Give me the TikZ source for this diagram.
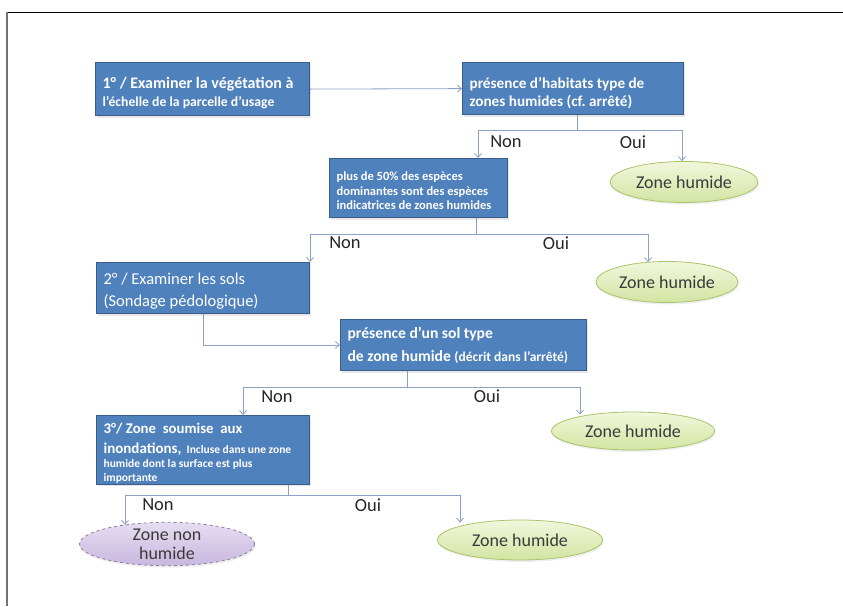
\documentclass[tikz,border=0pt]{standalone}
\usepackage{fontspec}
\setmainfont{Carlito}
\usetikzlibrary{arrows.meta,shapes.geometric,calc,shadows}
\definecolor{boxfill}{HTML}{4F81BD}
\definecolor{boxdraw}{HTML}{385D8A}
\definecolor{conn}{HTML}{8BA2C6}
\definecolor{grtop}{HTML}{F1F7DC}
\definecolor{grbot}{HTML}{D3E4A2}
\definecolor{grdraw}{HTML}{A9C46A}
\definecolor{pptop}{HTML}{E6DDF1}
\definecolor{ppbot}{HTML}{C8B7DF}
\definecolor{ppdraw}{HTML}{8C7E9C}
\definecolor{elltext}{HTML}{3A3A3A}
\frenchspacing
\newcommand{\natsp}{\spaceskip=0pt\xspaceskip=0pt\relax}
\newcommand{\lift}[1]{\rule{0pt}{#1}}
\begin{document}
\begin{tikzpicture}[x=1pt,y=-1pt,
  box/.style={draw=boxdraw, fill=boxfill, line width=1.2pt, anchor=north west,
    text=white, align=left, inner xsep=7pt, inner ysep=1pt,
    drop shadow={opacity=0.18, shadow xshift=1.5pt, shadow yshift=-2pt}},
  gell/.style={ellipse, draw=grdraw, line width=0.8pt, top color=grtop, bottom color=grbot,
    inner sep=0pt, text=elltext, font=\fontsize{18}{19}\selectfont, align=center,
    drop shadow={opacity=0.12, shadow xshift=1pt, shadow yshift=-2pt}},
  pell/.style={ellipse, draw=ppdraw, dashed, line width=0.8pt, top color=pptop, bottom color=ppbot,
    inner sep=0pt, text=elltext, font=\fontsize{18}{19}\selectfont, align=center,
    drop shadow={opacity=0.12, shadow xshift=1pt, shadow yshift=-2pt}},
  line/.style={draw=conn, line width=0.8pt},
  arr/.style={line, -{Straight Barb[length=4pt,width=7pt]}},
  lab/.style={font=\fontsize{18.5}{20}\selectfont, text=black!85, inner sep=0pt}
]
\useasboundingbox (0,0) rectangle (843,606);
\fill[white] (0,0) rectangle (843,606);
% frame
\draw[black, line width=1pt] (6,12.5) -- (843,12.5);
\draw[black!55, line width=2pt] (7,12) -- (7,606);

% boxes
\node[box, minimum width=214pt, minimum height=53pt, text width=200pt,
  font=\bfseries\fontsize{13.7}{18}\selectfont] (b1) at (95,62)
  {\natsp{\fontsize{16}{18}\selectfont\lift{19pt}1° / Examiner la végétation à}\\l’échelle de la parcelle d’usage};
\node[box, minimum width=221pt, minimum height=52pt, text width=207pt,
  font=\bfseries\fontsize{15.2}{18}\selectfont] (b2) at (462,62)
  {\natsp\lift{20pt}présence d’habitats type de\\zones humides (cf. arrêté)};
\node[box, minimum width=178pt, minimum height=59pt, text width=164pt,
  font=\bfseries\fontsize{12.5}{14.5}\selectfont] (b3) at (329,158)
  {\natsp\lift{14pt}plus de 50\% des espèces\\dominantes sont des espèces\\indicatrices de zones humides};
\node[box, minimum width=213pt, minimum height=51pt, text width=199pt,
  font=\fontsize{16.5}{22}\selectfont] (b4) at (96,262)
  {\natsp\lift{17pt}2° / Examiner les sols\\(Sondage pédologique)};
\node[box, minimum width=246pt, minimum height=51pt, text width=232pt,
  font=\bfseries\fontsize{15.6}{23}\selectfont] (b5) at (340,319)
  {\natsp présence d’un sol type\\de zone humide {\fontsize{13.5}{12}\selectfont (décrit dans l’arrêté)}};
\node[box, minimum width=213pt, minimum height=65pt, text width=199pt,
  font=\bfseries\fontsize{11.5}{14}\selectfont] (b6) at (96,415)
  {\natsp{\fontsize{14.8}{14}\selectfont\lift{17pt}3°/ Zone\ \ soumise\ \ aux}\\[6pt]{\fontsize{15}{14}\selectfont inondations,}\ \ Incluse dans une zone\\
   humide dont la surface est plus\\importante};

% ellipses
\node[gell, minimum width=148pt, minimum height=41pt] (e1) at (684,182) {Zone humide};
\node[gell, minimum width=142pt, minimum height=41pt] (e2) at (667,282) {Zone humide};
\node[gell, minimum width=163pt, minimum height=38pt] (e3) at (633,431) {Zone humide};
\node[gell, minimum width=165pt, minimum height=40pt] (e4) at (520,540) {Zone humide};
\node[pell, minimum width=175pt, minimum height=42pt] (e5) at (167,544) {Zone non\\humide};

% connectors
\draw[arr] (b1.east) -- (b2.west);

\coordinate (s2) at (577,130); \coordinate (s2l) at (478,130); \coordinate (s2r) at (682,130);
\draw[line] (s2 |- b2.south) -- (s2);
\draw[line] (s2l) -- (s2r);
\draw[arr] (s2l) -- (s2l |- b3.north);
\draw[arr] (s2r) -- (s2r |- e1.north);

\coordinate (s3) at (476,234); \coordinate (s3l) at (310,234); \coordinate (s3r) at (648,234);
\draw[line] (s3 |- b3.south) -- (s3);
\draw[line] (s3l) -- (s3r);
\draw[arr] (s3l) -- (s3l |- b4.north);
\draw[arr] (s3r) -- ([yshift=-1pt]s3r |- e2.north);

\coordinate (s4) at (203,345);
\draw[line] (s4 |- b4.south) -- (s4);
\draw[arr] (s4) -- (s4 -| b5.west);

\coordinate (s5) at (407,387); \coordinate (s5l) at (243,387); \coordinate (s5r) at (580,387);
\draw[line] (s5 |- b5.south) -- (s5);
\draw[line] (s5l) -- (s5r);
\draw[arr] (s5l) -- (s5l |- b6.north);
\draw[arr] (s5r) -- ([yshift=-3pt]s5r |- e3.north);

\coordinate (s6) at (288,495); \coordinate (s6l) at (125,495); \coordinate (s6r) at (460,495);
\draw[line] (s6 |- b6.south) -- (s6);
\draw[line] (s6l) -- (s6r);
\draw[arr] (s6l) -- ([yshift=-3pt]s6l |- e5.north);
\draw[arr] (s6r) -- ([yshift=-3pt]s6r |- e4.north);

% labels
\node[lab] (n1) at (506,142) {Non};
\node[lab] (o1) at (633,142) {Oui};
\node[lab] (n2) at (345,243) {Non};
\node[lab] (o2) at (556,243) {Oui};
\node[lab] (n3) at (277,397) {Non};
\node[lab] (o3) at (487,396) {Oui};
\node[lab] (n4) at (158,505) {Non};
\node[lab] (o4) at (368,505) {Oui};
\end{tikzpicture}
\end{document}
